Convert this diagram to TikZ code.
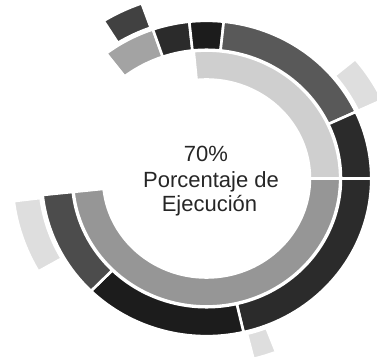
\documentclass[tikz,border=0pt]{standalone}
\usepackage{fontspec}
\setmainfont{Liberation Sans}
\usepackage{tikz}
\definecolor{segLight}{gray}{0.64}
\definecolor{segDark}{gray}{0.17}
\definecolor{segDarkest}{gray}{0.11}
\definecolor{segMid}{gray}{0.35}
\definecolor{segMidDark}{gray}{0.30}
\definecolor{ringPale}{gray}{0.81}
\definecolor{ringGrey}{gray}{0.59}
\definecolor{ghost}{gray}{0.87}
\tikzset{seg/.style={draw=white, line width=2.6pt, line join=miter}}
\tikzset{lbl/.style={anchor=base, text=black!85, font=\fontsize{22}{26}\selectfont}}
% ring piece: colour, from angle, to angle, inner radius, outer radius
\newcommand{\ringseg}[5]{%
  \fill[seg, fill=#1] (#2:#5) arc[start angle=#2, end angle=#3, radius=#5]
    -- (#3:#4) arc[start angle=#3, end angle=#2, radius=#4] -- cycle;}

\begin{document}
\begin{tikzpicture}[x=1pt, y=1pt]
    \useasboundingbox (0,0) rectangle (377,362);

    \begin{scope}[shift={(206.5,183.5)}, xscale=163.5, yscale=156.5]
        % inner ring
        \ringseg{ringPale}{95.5}{0}{0.6325}{0.8175}
        \ringseg{ringGrey}{0}{-174}{0.6325}{0.8175}
        % outer ring
        \ringseg{segLight}{127.5}{109}{0.8225}{1.0075}
        \ringseg{segDark}{109}{96}{0.8225}{1.0075}
        \ringseg{segDarkest}{96}{84}{0.8225}{1.0075}
        \ringseg{segMid}{84}{25}{0.8225}{1.0075}
        \ringseg{segDark}{25}{0}{0.8225}{1.0075}
        \ringseg{segDark}{0}{-77}{0.8225}{1.0075}
        \ringseg{segDarkest}{-77}{-134.5}{0.8225}{1.0075}
        \ringseg{segMidDark}{-134.5}{-174}{0.8225}{1.0075}
        % loose pieces outside
        \ringseg{segDark!90}{122}{109.5}{1.0225}{1.1875}
        \ringseg{ghost}{40}{25}{1.0225}{1.1875}
        \ringseg{ghost}{-69}{-76}{1.0225}{1.1875}
        \ringseg{ghost}{-150}{-173}{1.0225}{1.1875}
    \end{scope}

    \node[lbl] (pct) at (206,201) {70\%};
    \node[lbl] (lblA) at (211,174.5) {Porcentaje de};
    \node[lbl] (lblB) at (209.5,151) {Ejecución};

\end{tikzpicture}
\end{document}
